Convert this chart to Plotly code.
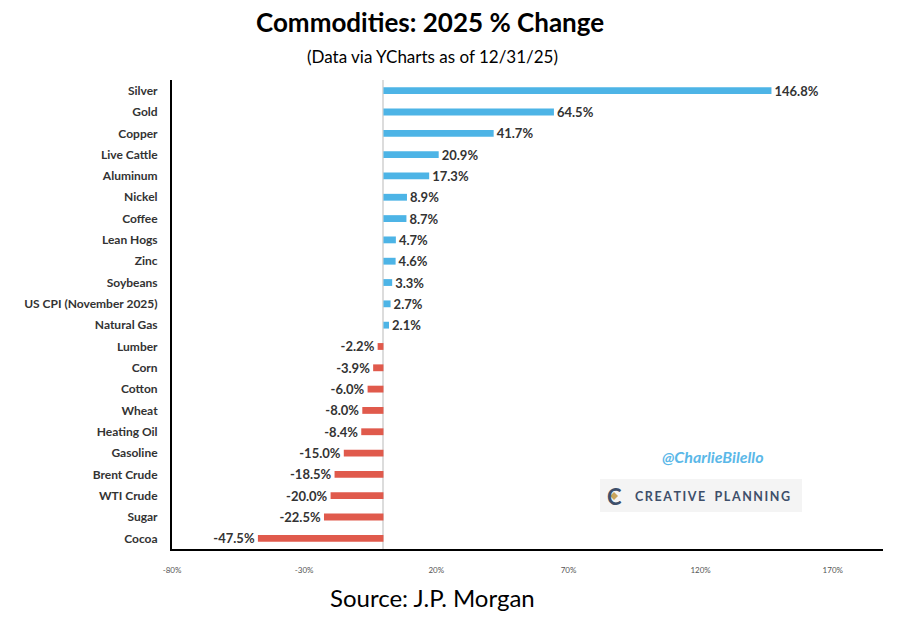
import plotly.graph_objects as go

categories = ["Silver", "Gold", "Copper", "Live Cattle", "Aluminum", "Nickel", "Coffee",
              "Lean Hogs", "Zinc", "Soybeans", "US CPI (November 2025)", "Natural Gas",
              "Lumber", "Corn", "Cotton", "Wheat", "Heating Oil", "Gasoline",
              "Brent Crude", "WTI Crude", "Sugar", "Cocoa"]
values = [146.8, 64.5, 41.7, 20.9, 17.3, 8.9, 8.7, 4.7, 4.6, 3.3, 2.7, 2.1,
          -2.2, -3.9, -6.0, -8.0, -8.4, -15.0, -18.5, -20.0, -22.5, -47.5]
tick_vals = [-80, -30, 20, 70, 120, 170]
tick_text = ["-80%", "-30%", "20%", "70%", "120%", "170%"]

BLUE = "#4DB4E6"
RED = "#E05A4C"
colors = [BLUE if v >= 0 else RED for v in values]
labels = [f"{v:.1f}%" for v in values]

fig = go.Figure(go.Bar(
    x=values, y=categories, orientation="h",
    marker=dict(color=colors, line=dict(width=0)),
    width=0.32,
    text=labels, textposition="outside", cliponaxis=False, constraintext="none",
    textfont=dict(family="Lato", size=13, color="#333333", weight="bold"),
    hoverinfo="skip",
))

W, H = 897, 623
L, R, T, B = 172, 14, 80, 74
pw, ph = W - L - R, H - T - B

def px(x):
    return (x - L) / pw

def py(y):
    return (H - B - y) / ph

fig.update_layout(
    width=W, height=H,
    margin=dict(l=L, r=R, t=T, b=B),
    paper_bgcolor="white", plot_bgcolor="white",
    showlegend=False,
    bargap=0.6,
    xaxis=dict(
        range=[-80, 189], tickvals=tick_vals, ticktext=tick_text,
        showgrid=False, zeroline=True, zerolinecolor="#dcdcdc", zerolinewidth=2,
        showline=True, linecolor="black", linewidth=2,
        ticks="", ticklabelstandoff=12,
        tickfont=dict(family="Lato", size=8, color="#555555"),
    ),
    yaxis=dict(
        categoryorder="array", categoryarray=categories, autorange="reversed",
        showgrid=False, zeroline=False,
        showline=True, linecolor="black", linewidth=2,
        ticks="", ticklabelstandoff=10,
        tickfont=dict(family="Lato", size=12, color="#333333", weight="bold"),
    ),
    annotations=[
        dict(text="<b>Commodities: 2025 % Change</b>", x=px(430), y=py(22),
             xref="paper", yref="paper", showarrow=False, xanchor="center", yanchor="middle",
             font=dict(family="Lato", size=26, color="black")),
        dict(text="(Data via YCharts as of 12/31/25)", x=px(432), y=py(57),
             xref="paper", yref="paper", showarrow=False, xanchor="center", yanchor="middle",
             font=dict(family="Lato", size=17, color="black")),
        dict(text="Source: J.P. Morgan", x=px(432), y=py(597),
             xref="paper", yref="paper", showarrow=False, xanchor="center", yanchor="middle",
             font=dict(family="Lato", size=24, color="black")),
        dict(text="<i>@CharlieBilello</i>", x=px(713), y=py(456),
             xref="paper", yref="paper", showarrow=False, xanchor="center", yanchor="middle",
             font=dict(family="Lato", size=16, color="#5BB8E8", weight="bold")),
        dict(text="C\u2009R\u2009E\u2009A\u2009T\u2009I\u2009V\u2009E\u2003P\u2009L\u2009A\u2009N\u2009N\u2009I\u2009N\u2009G",
             x=px(712), y=py(496),
             xref="paper", yref="paper", showarrow=False, xanchor="center", yanchor="middle",
             font=dict(family="Lato", size=12.5, color="#3E4F6A", weight="bold")),
        dict(text="<b>C</b>", x=px(614), y=py(496),
             xref="paper", yref="paper", showarrow=False, xanchor="center", yanchor="middle",
             font=dict(family="Lato", size=22, color="#3E4F6A")),
    ],
    shapes=[
        dict(type="rect", xref="paper", yref="paper",
             x0=px(600), x1=px(802), y0=py(512), y1=py(479),
             fillcolor="#F4F4F4", line=dict(width=0), layer="below"),
        dict(type="path", xref="paper", yref="paper",
             path=f"M {px(614)},{py(492)} L {px(618)},{py(496)} L {px(614)},{py(500)} L {px(610)},{py(496)} Z",
             fillcolor="#C9A45C", line=dict(width=0)),
    ],
)

fig.write_html("out.html")
